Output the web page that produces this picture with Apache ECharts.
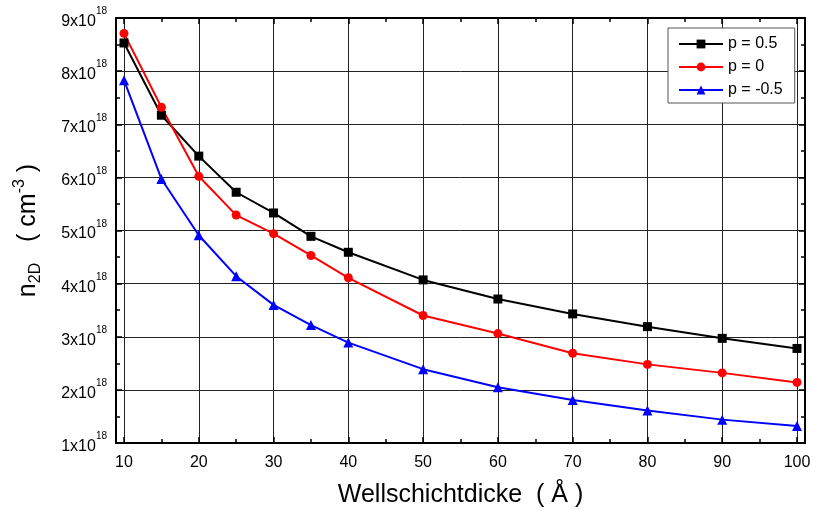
<!DOCTYPE html>
<html>
<head>
<meta charset="utf-8">
<title>n2D vs Wellschichtdicke</title>
<script src="https://cdn.jsdelivr.net/npm/echarts@6/dist/echarts.min.js"></script>
<style>
  html, body { margin: 0; padding: 0; background: #fff; }
  #chart { width: 813px; height: 510px; }
</style>
</head>
<body>
<div id="chart"></div>
<script>
// Well thickness in Å
const thickness = [10, 15, 20, 25, 30, 35, 40, 50, 60, 70, 80, 90, 100];
// n2D in units of 10^18 cm^-3
const nP05  = [8.53, 7.17, 6.40, 5.72, 5.33, 4.89, 4.59, 4.07, 3.71, 3.43, 3.19, 2.97, 2.78];
const nP0   = [8.71, 7.32, 6.02, 5.29, 4.94, 4.53, 4.11, 3.40, 3.06, 2.69, 2.48, 2.32, 2.14];
const nPm05 = [7.83, 5.97, 4.91, 4.14, 3.60, 3.22, 2.89, 2.39, 2.05, 1.81, 1.61, 1.44, 1.32];

const seriesNames = ['p = 0.5', 'p = 0', 'p = -0.5'];
const exponent = '18';
const xTitle = 'Wellschichtdicke  ( Å )';

const FONT = 'Liberation Sans, Arial, sans-serif';
const frameLine = { show: true, lineStyle: { color: '#000', width: 2 } };
const gridLine = { show: true, lineStyle: { color: '#222', width: 1 } };

const pairs = ys => thickness.map((x, i) => [x, ys[i]]);

const chart = echarts.init(document.getElementById('chart'), null, { renderer: 'canvas' });

// Outer frame spans 9..101 on x; the data grid spans exactly 10..100 inside it
const frameGrid = { left: 116, right: 8, top: 18, bottom: 67 };
const dataGrid  = { left: 124, right: 16, top: 18, bottom: 67 };

const ticks = {
  axisTick: { show: true, inside: true, length: 6, lineStyle: { color: '#000', width: 1.5 } },
  minorTick: { show: true, splitNumber: 2, length: 4, lineStyle: { color: '#000', width: 1.5 } }
};

const option = {
  backgroundColor: '#fff',
  animation: false,
  textStyle: { fontFamily: FONT, color: '#000' },
  grid: [
    Object.assign({ containLabel: false, outerBoundsMode: 'none' }, frameGrid),
    Object.assign({ containLabel: false, outerBoundsMode: 'none' }, dataGrid)
  ],
  legend: {
    data: seriesNames,
    orient: 'vertical',
    left: 668,
    top: 28,
    padding: [7, 12, 4, 10],
    itemGap: 5,
    itemWidth: 44,
    itemHeight: 11,
    backgroundColor: '#fff',
    borderColor: '#555',
    borderWidth: 1,
    borderRadius: 0,
    textStyle: { fontFamily: FONT, fontSize: 16, color: '#000', lineHeight: 18 }
  },
  xAxis: [
    // outer frame, bottom and top edges
    { type: 'value', gridIndex: 0, position: 'bottom', min: 9, max: 101,
      axisLine: frameLine, axisTick: { show: false }, axisLabel: { show: false }, splitLine: { show: false } },
    { type: 'value', gridIndex: 0, position: 'top', min: 9, max: 101,
      axisLine: frameLine, axisTick: { show: false }, axisLabel: { show: false }, splitLine: { show: false } },
    // data axis: ticks, labels, vertical grid lines
    Object.assign({ type: 'value', gridIndex: 1, position: 'bottom', min: 10, max: 100, interval: 10,
      axisLine: { show: false },
      axisLabel: { show: true, fontFamily: FONT, fontSize: 16, color: '#000', margin: 12 },
      splitLine: gridLine,
      name: xTitle, nameLocation: 'middle', nameGap: 40,
      nameTextStyle: { fontFamily: FONT, fontSize: 25, color: '#000' } }, ticks),
    Object.assign({ type: 'value', gridIndex: 1, position: 'top', min: 10, max: 100, interval: 10,
      axisLine: { show: false }, axisLabel: { show: false }, splitLine: { show: false } }, ticks)
  ],
  yAxis: [
    Object.assign({ type: 'value', gridIndex: 0, position: 'left', min: 1, max: 9, interval: 1,
      axisLine: frameLine,
      splitLine: gridLine,
      axisLabel: {
        show: true, margin: 9,
        formatter: v => '{b|' + v + 'x10}{s|' + exponent + '}',
        rich: {
          b: { fontFamily: FONT, fontSize: 16, color: '#000', lineHeight: 23, verticalAlign: 'bottom' },
          s: { fontFamily: FONT, fontSize: 10, color: '#000', lineHeight: 10, verticalAlign: 'top' }
        }
      },
      name: '{n|n}{sub|2D}{n|   ( cm}{sup|-3}{n| )}',
      nameLocation: 'middle', nameGap: 72, nameRotate: 90,
      nameTextStyle: {
        rich: {
          n: { fontFamily: FONT, fontSize: 25, color: '#000', lineHeight: 32, verticalAlign: 'middle' },
          sub: { fontFamily: FONT, fontSize: 16, color: '#000', lineHeight: 15, verticalAlign: 'bottom' },
          sup: { fontFamily: FONT, fontSize: 16, color: '#000', lineHeight: 15, verticalAlign: 'top' }
        }
      } }, ticks),
    Object.assign({ type: 'value', gridIndex: 0, position: 'right', min: 1, max: 9, interval: 1,
      axisLine: frameLine, axisLabel: { show: false }, splitLine: { show: false } }, ticks),
    { type: 'value', gridIndex: 1, min: 1, max: 9, show: false }
  ],
  series: [
    { name: seriesNames[0], type: 'line', xAxisIndex: 2, yAxisIndex: 2, data: pairs(nP05),
      symbol: 'rect', symbolSize: 9, lineStyle: { color: '#000', width: 2 }, itemStyle: { color: '#000' } },
    { name: seriesNames[1], type: 'line', xAxisIndex: 2, yAxisIndex: 2, data: pairs(nP0),
      symbol: 'circle', symbolSize: 9, lineStyle: { color: '#ff0000', width: 2 }, itemStyle: { color: '#ff0000' } },
    { name: seriesNames[2], type: 'line', xAxisIndex: 2, yAxisIndex: 2, data: pairs(nPm05),
      symbol: 'triangle', symbolSize: 10, lineStyle: { color: '#0000ff', width: 2 }, itemStyle: { color: '#0000ff' } }
  ]
};

chart.setOption(option);
</script>
</body>
</html>
